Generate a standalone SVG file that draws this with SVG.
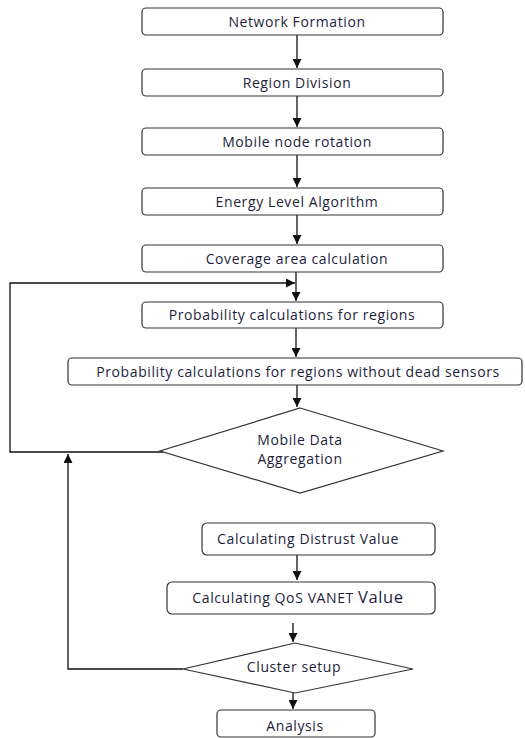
<svg xmlns="http://www.w3.org/2000/svg" width="525" height="738" viewBox="0 0 525 738">
<style>
.b{fill:#fff;stroke:#333;stroke-width:1.2}
.t{font-family:"Open Sans","Noto Sans",sans-serif;font-size:14px;letter-spacing:0.6px;fill:#1e1e3c;text-anchor:middle}
.c{fill:none;stroke:#111;stroke-width:1.3}
</style>
<defs>
<marker id="a" viewBox="0 0 10 10" refX="10" refY="5" markerWidth="9" markerHeight="9" markerUnits="userSpaceOnUse" orient="auto"><path d="M0,0L10,5L0,10z" fill="#111"/></marker>
</defs>
<rect width="525" height="738" fill="#fff"/>
<g id="connectors">
<path class="c" d="M297 35V68" marker-end="url(#a)"/>
<path class="c" d="M297 96V127" marker-end="url(#a)"/>
<path class="c" d="M297 155V187" marker-end="url(#a)"/>
<path class="c" d="M297 215V244" marker-end="url(#a)"/>
<path class="c" d="M296 272V301" marker-end="url(#a)"/>
<path class="c" d="M296 328V357" marker-end="url(#a)"/>
<path class="c" d="M297 385V407" marker-end="url(#a)"/>
<path class="c" d="M181 452H10V283H295" marker-end="url(#a)"/>
<path class="c" d="M183 669H68V454" marker-end="url(#a)"/>
<path class="c" d="M297 555V580" marker-end="url(#a)"/>
<path class="c" d="M293 623V642" marker-end="url(#a)"/>
<path class="c" d="M293 689V709" marker-end="url(#a)"/>
</g>
<g id="n1"><rect class="b" x="142" y="8" width="301" height="27" rx="4"/><text class="t" x="297" y="27">Network Formation</text></g>
<g id="n2"><rect class="b" x="142" y="69" width="301" height="27" rx="4"/><text class="t" x="297" y="88">Region Division</text></g>
<g id="n3"><rect class="b" x="142" y="128" width="301" height="27" rx="4"/><text class="t" x="297" y="147">Mobile node rotation</text></g>
<g id="n4"><rect class="b" x="142" y="188" width="301" height="27" rx="4"/><text class="t" x="297" y="207">Energy Level Algorithm</text></g>
<g id="n5"><rect class="b" x="142" y="245" width="301" height="27" rx="4"/><text class="t" x="297" y="264">Coverage area calculation</text></g>
<g id="n6"><rect class="b" x="142" y="302" width="301" height="26" rx="4"/><text class="t" x="292" y="320">Probability calculations for regions</text></g>
<g id="n7"><rect class="b" x="68" y="358" width="454" height="27" rx="4"/><text class="t" x="298" y="377">Probability calculations for regions without dead sensors</text></g>
<g id="n8"><polygon class="b" points="300,408 443,451 300,493 160,451"/><text class="t" x="300" y="445">Mobile Data</text><text class="t" x="300" y="464">Aggregation</text></g>
<g id="n9"><rect class="b" x="202" y="523" width="233" height="32" rx="5"/><text class="t" x="308" y="544">Calculating Distrust Value</text></g>
<g id="n10"><rect class="b" x="167" y="582" width="268" height="32" rx="5"/><text class="t" x="298" y="603">Calculating QoS VANET <tspan font-size="16.5">Value</tspan></text></g>
<g id="n11"><polygon class="b" points="295,643 413,669 295,693 183,669"/><text class="t" x="294" y="672">Cluster setup</text></g>
<g id="n12"><rect class="b" x="217" y="710" width="158" height="27" rx="4"/><text class="t" x="295" y="731">Analysis</text></g>
</svg>
